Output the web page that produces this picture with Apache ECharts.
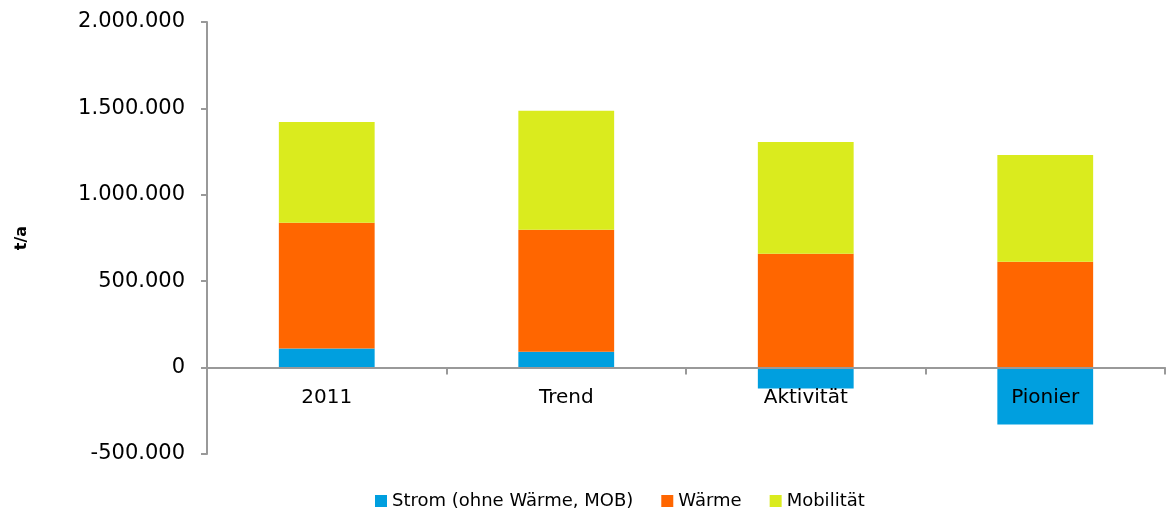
<!DOCTYPE html>
<html><head><meta charset="utf-8">
<script src="https://cdn.jsdelivr.net/npm/echarts@6/dist/echarts.min.js"></script>
<style>html,body{margin:0;padding:0;background:#fff}#c{width:1166px;height:515px}</style>
</head><body><div id="c"></div>
<script>
const categories = ['2011', 'Trend', 'Aktivität', 'Pionier'];
const strom = [110000, 92000, -121000, -330000];
const waerme = [728000, 706000, 659000, 613000];
const mobilitaet = [584000, 688000, 647000, 618000];
const seriesNames = ['Strom (ohne Wärme, MOB)', 'Wärme', 'Mobilität'];
const colors = ['#009FDF', '#FF6600', '#DAEB1E'];

const FONT = 'DejaVu Sans';
function fmt(v) {
  const neg = v < 0; let s = String(Math.abs(v));
  s = s.replace(/\B(?=(\d{3})+(?!\d))/g, '.');
  return (neg ? '-' : '') + s;
}
const chart = echarts.init(document.getElementById('c'), null, {renderer: 'canvas'});
const data = [strom, waerme, mobilitaet];
chart.setOption({
  animation: false,
  color: colors,
  textStyle: {fontFamily: FONT},
  grid: {left: 207, right: 1, top: 22, bottom: 61, containLabel: false},
  legend: {
    bottom: 0, left: 370, itemWidth: 12, itemHeight: 12, itemGap: 28,
    icon: 'rect',
    textStyle: {fontFamily: FONT, fontSize: 18, color: '#000'},
    data: seriesNames
  },
  xAxis: [{
    type: 'category', data: categories, z: 10,
    axisLine: {onZero: true, lineStyle: {color: '#999', width: 2}},
    axisTick: {show: true, length: 7, lineStyle: {color: '#999', width: 2}},
    axisLabel: {show: false}
  }, {
    type: 'category', data: categories, z: 11, position: 'bottom', offset: -86,
    axisLine: {show: false, onZero: false},
    axisTick: {show: false},
    axisLabel: {color: '#000', fontSize: 20, fontFamily: FONT, margin: 20}
  }],
  yAxis: {
    type: 'value', min: -500000, max: 2000000, interval: 500000,
    name: 't/a', nameLocation: 'middle', nameGap: 177,
    nameTextStyle: {fontWeight: 'bold', fontSize: 16, color: '#000', fontFamily: FONT},
    axisLine: {show: true, lineStyle: {color: '#999', width: 2}},
    axisTick: {show: true, length: 6, lineStyle: {color: '#999', width: 2}},
    splitLine: {show: false},
    axisLabel: {color: '#000', fontSize: 21, fontFamily: FONT, margin: 22, formatter: fmt}
  },
  series: seriesNames.map((n, i) => ({
    name: n, type: 'bar', stack: 'total', barWidth: '40%', xAxisIndex: 0,
    data: data[i],
    itemStyle: {color: colors[i]}
  }))
});
</script></body></html>
